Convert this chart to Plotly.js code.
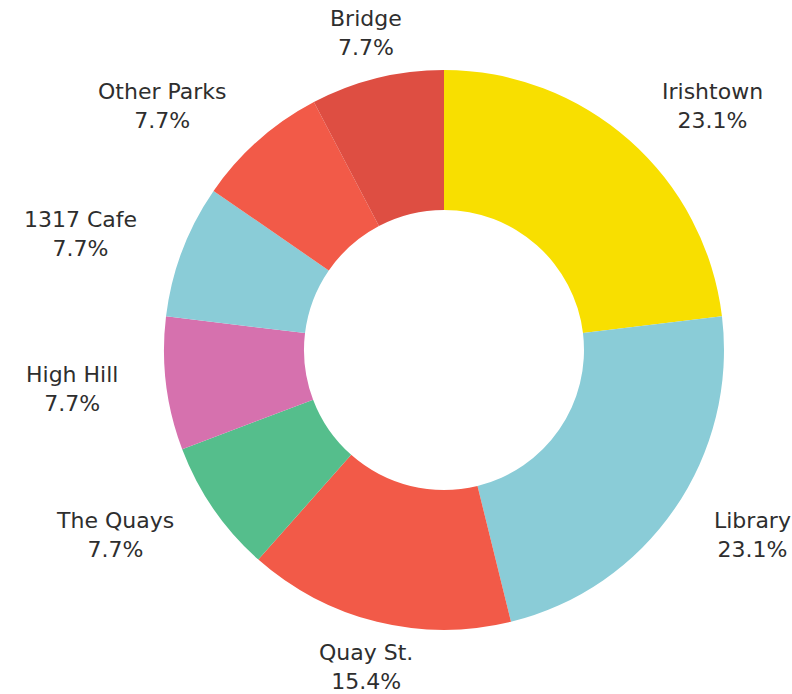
<!DOCTYPE html>
<html>
<head>
<meta charset="utf-8">
<script src="https://cdn.plot.ly/plotly-3.0.1.min.js"></script>
<style>html,body{margin:0;padding:0;background:#fff;}#chart{width:792px;height:694px;}</style>
</head>
<body>
<div id="chart"></div>
<script>
var labels = ["Irishtown", "Library", "Quay St.", "The Quays", "High Hill", "1317 Cafe", "Other Parks", "Bridge"];
var values = [3, 3, 2, 1, 1, 1, 1, 1];
var colors = ["#F8DF00", "#8ACCD7", "#F25A48", "#55BE8C", "#D671AE", "#8ACCD7", "#F25A48", "#DE4E42"];

var W = 792, H = 694;
var CX = 444, CY = 350, R = 280;   // donut centre and outer radius (px)
var LABEL_R = 326;                  // radius of the label anchor circle (px)

var donut = {
  type: "pie",
  labels: labels,
  values: values,
  hole: 0.5,
  sort: false,
  direction: "clockwise",
  rotation: 0,
  marker: {colors: colors, line: {width: 0}},
  textinfo: "none",
  hoverinfo: "label+percent",
  domain: {x: [(CX - R) / W, (CX + R) / W], y: [1 - (CY + R) / H, 1 - (CY - R) / H]},
  automargin: false
};

// outside labels, placed at each slice's mid angle (derived from the values)
var total = values.reduce(function (a, b) { return a + b; }, 0);
var annotations = [];
var cum = 0;
values.forEach(function (v, i) {
  var theta = 2 * Math.PI * (cum + v / 2) / total;   // clockwise from 12 o'clock
  cum += v;
  var s = Math.sin(theta), c = Math.cos(theta);
  var px = CX + LABEL_R * s, py = CY - LABEL_R * c;
  var xanchor = Math.abs(s) < 0.4 ? "center" : (s > 0 ? "left" : "right");
  var pct = (100 * v / total).toFixed(1) + "%";
  annotations.push({
    xref: "paper", yref: "paper",
    x: px / W, y: 1 - py / H,
    xanchor: xanchor, yanchor: "middle",
    align: "center",
    showarrow: false,
    text: labels[i] + "<br>" + pct,
    font: {family: "DejaVu Sans, sans-serif", size: 22, color: "#2e2e2e"}
  });
});

var layout = {
  width: W,
  height: H,
  margin: {l: 0, r: 0, t: 0, b: 0},
  showlegend: false,
  paper_bgcolor: "#ffffff",
  plot_bgcolor: "#ffffff",
  annotations: annotations
};

Plotly.newPlot("chart", [donut], layout, {displayModeBar: false, staticPlot: true});
</script>
</body>
</html>
